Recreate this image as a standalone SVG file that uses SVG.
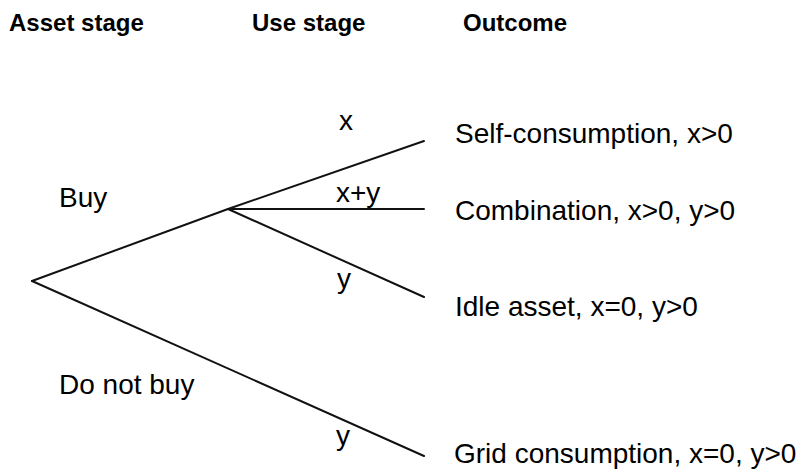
<svg xmlns="http://www.w3.org/2000/svg" width="800" height="472" viewBox="0 0 800 472">
  <style>
    .hdr { font-family: "Liberation Sans", Arial, sans-serif; font-weight: bold; font-size: 24px; fill: #000; }
    .lbl { font-family: "Liberation Sans", Arial, sans-serif; font-size: 28px; fill: #000; }
    .edge { stroke: #111; stroke-width: 2; fill: none; stroke-linecap: round; }
  </style>
  <rect width="800" height="472" fill="#fff"/>
  <g id="headers">
    <text class="hdr" x="9" y="31">Asset stage</text>
    <text class="hdr" x="252" y="31">Use stage</text>
    <text class="hdr" x="463" y="31">Outcome</text>
  </g>
  <g id="connectors">
    <line class="edge" x1="32" y1="281" x2="228" y2="209"/>
    <line class="edge" x1="32" y1="281" x2="424" y2="456"/>
    <line class="edge" x1="228" y1="209" x2="424" y2="141"/>
    <line class="edge" x1="228" y1="209" x2="424" y2="209"/>
    <line class="edge" x1="228" y1="209" x2="424" y2="297"/>
  </g>
  <g id="edge-labels">
    <text class="lbl" x="59" y="207">Buy</text>
    <text class="lbl" x="59" y="394">Do not buy</text>
    <text class="lbl" x="339" y="130">x</text>
    <text class="lbl" x="336" y="202">x+y</text>
    <text class="lbl" x="337" y="288">y</text>
    <text class="lbl" x="336" y="445">y</text>
  </g>
  <g id="outcome-self">
    <text class="lbl" x="455" y="143">Self-consumption, x&gt;0</text>
  </g>
  <g id="outcome-combination">
    <text class="lbl" x="455" y="220">Combination, x&gt;0, y&gt;0</text>
  </g>
  <g id="outcome-idle">
    <text class="lbl" x="455" y="316">Idle asset, x=0, y&gt;0</text>
  </g>
  <g id="outcome-grid">
    <text class="lbl" x="454" y="463">Grid consumption, x=0, y&gt;0</text>
  </g>
</svg>
